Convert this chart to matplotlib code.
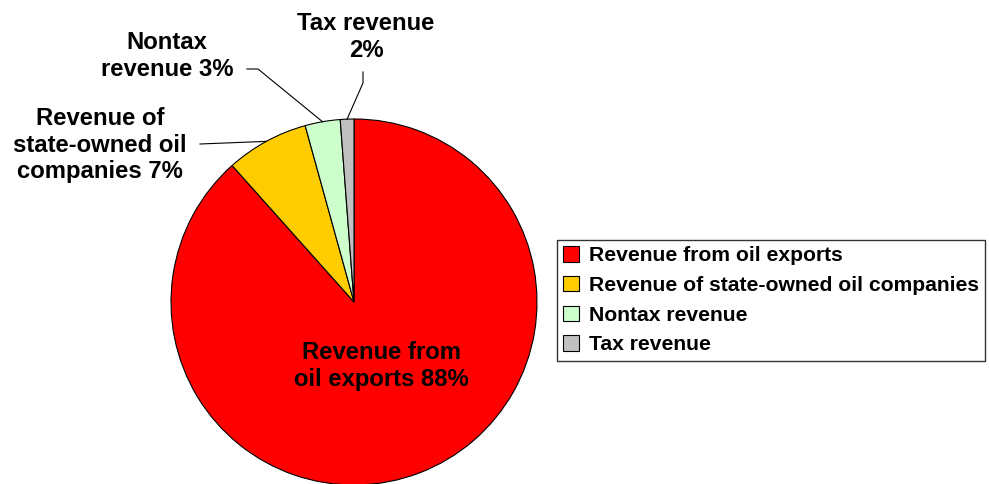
import numpy as np
import matplotlib
matplotlib.use('Agg')
import matplotlib.pyplot as plt

plt.rcParams['font.family'] = ['Liberation Sans', 'DejaVu Sans']
plt.rcParams['font.weight'] = 'bold'

# data
sources = ['Revenue from oil exports', 'Revenue of state-owned oil companies',
           'Nontax revenue', 'Tax revenue']
shares = [88.4, 7.3, 3.1, 1.2]
pct_text = ['88%', '7%', '3%', '2%']
colors = ['#FF0000', '#FFCC00', '#CCFFCC', '#C0C0C0']

W, H = 989, 484
cx, cy, R = 354, 302, 183   # pie centre / radius in pixels

fig = plt.figure(figsize=(W / 100, H / 100), dpi=100)
ax = fig.add_axes([0, 0, 1, 1])

wedges, _ = ax.pie(shares, colors=colors, startangle=90, counterclock=False,
                   radius=1.0, center=(0, 0),
                   wedgeprops=dict(edgecolor='black', linewidth=0.8))

ax.set_xlim(-cx / R, (W - cx) / R)
ax.set_ylim(-(H - cy) / R, cy / R)
ax.set_aspect('auto')
ax.axis('off')

def px(x, y):
    # pixel coordinates -> data coordinates
    return (x - cx) / R, (cy - y) / R

def edge_point(w):
    a = np.deg2rad((w.theta1 + w.theta2) / 2)
    return np.cos(a), np.sin(a)

fs = 17.2
ls = 1.22

# big slice label inside
x, y = px(381, 366)
ax.text(x, y, 'Revenue from\noil exports ' + pct_text[0], ha='center', va='center',
        fontsize=fs, fontweight='bold', linespacing=ls)

# outside labels with leader lines
outside = [
    (1, (100, 145), 'Revenue of\nstate-owned oil\ncompanies ', [(200, 144)]),
    (2, (167, 56), 'Nontax\nrevenue ', [(247, 69), (258, 69)]),
    (3, (366, 37), 'Tax revenue\n', [(363, 72), (363, 83)]),
]
for i, (lx, ly), txt, path in outside:
    x, y = px(lx, ly)
    ax.text(x, y, txt + pct_text[i], ha='center', va='center',
            fontsize=fs, fontweight='bold', linespacing=ls)
    pts = [px(*p) for p in path] + [edge_point(wedges[i])]
    ax.plot([p[0] for p in pts], [p[1] for p in pts], color='black', lw=0.8)

leg = ax.legend(wedges, sources, loc='upper left',
                bbox_to_anchor=(557 / W, 1 - 240 / H), bbox_transform=fig.transFigure,
                frameon=True, fancybox=False, edgecolor='black',
                prop=dict(size=15.2, weight='bold'), handlelength=0.75, handleheight=0.75,
                handletextpad=0.45, labelspacing=0.5, borderpad=0.3, borderaxespad=0)
leg.get_frame().set_linewidth(1.0)

fig.savefig('out.png', dpi=100)
